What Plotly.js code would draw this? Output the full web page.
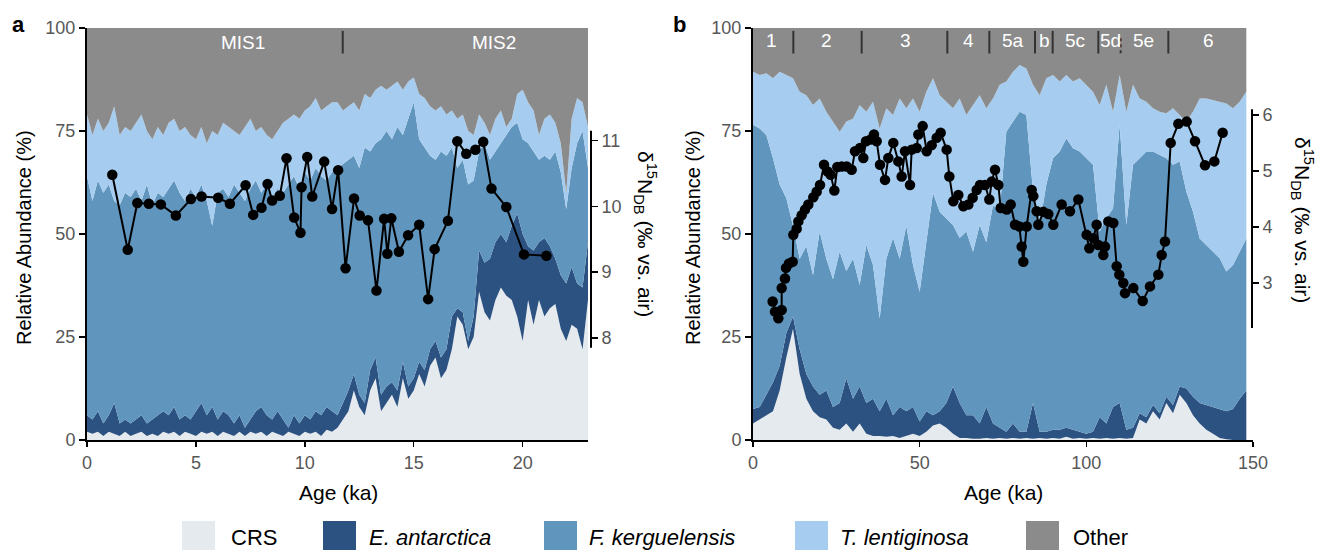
<!DOCTYPE html>
<html><head><meta charset="utf-8">
<script src="https://cdn.plot.ly/plotly-3.0.1.min.js"></script>
<style>html,body{margin:0;padding:0;background:#fff}#chart{width:1320px;height:550px}</style>
</head><body><div id="chart"></div>
<script>
// ---------- Panel a: 0-23 ka ----------
const ageA = [0,0.25,0.5,0.75,1,1.25,1.5,1.75,2,2.25,2.5,2.75,3,3.25,3.5,3.75,4,4.25,4.5,4.75,5,5.25,5.5,5.75,6,6.25,6.5,6.75,7,7.25,7.5,7.75,8,8.25,8.5,8.75,9,9.25,9.5,9.75,10,10.25,10.5,10.75,11,11.25,11.5,11.75,12,12.25,12.5,12.75,13,13.25,13.5,13.75,14,14.25,14.5,14.75,15,15.25,15.5,15.75,16,16.25,16.5,16.75,17,17.25,17.5,17.75,18,18.25,18.5,18.75,19,19.25,19.5,19.75,20,20.25,20.5,20.75,21,21.25,21.5,21.75,22,22.25,22.5,22.75,23];
const crsA = [2,1.5,2,1,2,1.5,1,2,1,1.5,2,1,1.5,1,2,1.5,2,1,2,1.5,1,2,1.5,2,1,2,1.5,1,2,1,2,1.5,2,1,2,1.5,1,2,1.5,1,2,1.5,2,1,2.5,2,3,5,7,12,8,6,12,15,7,9,11,8,15,10,12,16,13,18,20,15,17,22,30,28,22,25,36,31,29,34,37,35,34,30,24,34,28,34,30,32,33,27,24,28,27,22,34];
const eantA = [4,3.5,5,3,4,7.5,3,3,3,3.5,4,3,3.5,5,5,4.5,6,4,4,3.5,6,7,4.5,6,4,5,4.5,3,4,2,3,5.5,6,5,3,5.5,4,1,4.5,3,4,3.5,5,5,5.5,5,3,4,5,4,3,3,5,5,4,4,3,4,4,3,3,3,4,4,4,5,5,8,2,3,2,5,10,12,15,14,13,13,18,25,26,13,18,14,19,15,11,13,14,14,11,15,14];
const fkerA = [58,53,56,56,56,49,53,55,55,56,52,58,52,54,52,55,55,55,52,56,52,53,52,44,55,54,53,58,54,55,56,56,52,56,54,54,55,59,58,57,59,58,59,58,55,58,60,58,56,53,55,62,53,52,62,62,59,64,55,65,67,54,54,47,44,50,47,41,34,37,38,33,24,29,24,22,22,26,24,22,23,25,24,20,20,21,26,25,18,24,34,38,18];
const tlenA = [15,16,15,15,15,23,17,16,16,16,21,13,16,16,15,16,15,15,18,13,14,14,14,23,14,16,17,13,14,18,17,12,16,12,14,14,17,16,15,17,15,18,17,16,18,17,16,13,13,13,14,13,13,13,13,10,13,11,11,9,6,11,12,12,12,11,10,9,12,11,13,11,9,5,6,8,8,2,2,7,12,10,10,6,9,11,7,7,4,12,11,7,10];
const otherA = [21,26,22,25,23,19,26,24,25,23,21,25,27,24,26,23,22,25,24,26,27,24,28,25,26,23,24,25,26,24,22,25,24,26,27,25,23,22,21,22,20,19,17,20,19,18,18,20,19,18,20,16,17,15,14,15,14,13,15,13,12,16,17,19,20,19,21,20,22,21,25,26,21,23,26,22,20,24,22,16,15,18,20,26,22,21,23,28,40,22,17,18,24];
const d15nAgeA = [1.16,1.87,2.31,2.84,3.39,4.08,4.77,5.26,6.02,6.56,7.28,7.63,8.01,8.29,8.50,8.85,9.16,9.51,9.80,9.85,10.11,10.34,10.89,11.25,11.53,11.87,12.26,12.52,12.90,13.29,13.64,13.79,13.97,14.32,14.74,15.25,15.66,15.96,16.57,17.00,17.41,17.83,18.19,18.57,19.25,20.06,21.09];
const d15nA = [10.48,9.34,10.05,10.04,10.03,9.86,10.11,10.15,10.13,10.04,10.32,9.87,9.98,10.34,10.09,10.16,10.73,9.83,9.60,10.29,10.75,10.15,10.68,9.96,10.55,9.06,10.12,9.86,9.79,8.72,9.81,9.28,9.82,9.31,9.56,9.72,8.59,9.35,9.78,10.99,10.80,10.86,10.98,10.27,9.99,9.27,9.25];

// ---------- Panel b: 0-150 ka ----------
const ageB = [0,2,4,6,8,10,12,14,16,18,20,22,24,26,28,30,32,34,36,38,40,42,44,46,48,50,52,54,56,58,60,62,64,66,68,70,72,74,76,78,80,82,84,86,88,90,92,94,96,98,100,102,104,106,108,110,112,114,116,118,120,122,124,126,128,130,132,134,136,138,140,142,144,146,148];
const crsB = [4,5,6,7,12,20,27,16,10,7,5.5,5,3,2.5,4,2,4,1.5,1,1,0.8,1,0.5,1,1.5,1,2,3.5,4,3,1.5,0.5,0.5,0.3,0.3,0.5,0.3,0.5,0.3,0.5,0.3,0.5,0.3,0.5,0.3,0.5,0.3,0.8,0.3,0.5,0.3,0.5,0.3,0.5,0.3,0.5,0.3,0.5,5,4,7,5,9,6.5,11,9,6,4,2.5,1.5,0.5,0.2,0,0,0];
const eantB = [3.5,3,5,7,6,6,3,6,6,6,5.5,7,5,6.5,11,8,9,7.5,9,6,9.2,5,7.5,6,6.5,3.5,5,2.5,3,6,11.5,8.5,5.5,5.7,3.7,7.5,3.7,2.5,1.7,3.5,1.7,1.5,8.7,1.5,1.7,2,2.2,2.2,2.2,1.5,1.2,1.5,5.2,3.5,7.7,8.5,2.2,2.5,1.5,1.5,1.5,1.5,1.5,2,2,3.5,4.5,5,6,6.5,7,6.8,7.5,10,12];
const fkerB = [69,67.6,63,54.4,44,32.7,22,22,31,27,39.6,32,31,36.7,26,34,24.6,38.3,32.5,22.5,34,43,36,45,34.5,31.5,41,54,48.4,44.8,39.2,40,44.6,39.7,48.2,40,53,52.4,72.8,73.3,77.7,76.9,51.3,50.2,60,65.9,67.5,70.2,68.3,68,66.9,64.8,45.1,49.8,48.2,67.5,49.7,63.8,61.9,64.5,61.5,62.7,57.9,58.3,54.6,47.8,44.9,39.9,38.8,37.7,36.6,33.9,35,35.7,36.9];
const tlenB = [12.9,13,15,19.4,27.4,29.9,35.8,40.5,36.7,41.3,32.3,35.7,38.3,29.1,36.3,34,43.7,32.4,39.6,46.1,36.5,29.9,38.9,28.5,40.4,43.7,36.5,27.8,28.3,28.3,28.3,33.9,28.3,35.6,31.5,32.5,25.9,30.8,12.2,12.1,11.3,11.3,25.9,31.5,25.8,20.2,17,15.4,16.2,17.8,17.8,17.7,30.7,32.4,23.5,12.1,27.5,19.4,14.5,12.1,10.5,10.5,10.9,13.7,11.3,17,24.3,34,35.6,36.8,38,40.8,38,36.4,35.6];
const otherB = [10.6,11.4,11,12.2,10.6,11.4,12.2,15.5,16.3,18.7,17.1,20.3,22.7,25.2,22.7,22,18.7,20.3,17.9,24.4,19.5,21.1,17.1,19.5,17.1,20.3,15.5,12.2,16.3,17.9,19.5,17.1,21.1,18.7,16.3,19.5,17.1,13.8,13,10.6,9,9.8,13.8,16.3,12.2,11.4,13,11.4,13,12.2,13.8,15.5,18.7,13.8,20.3,11.4,20.3,13.8,17.1,17.9,19.5,20.3,20.7,19.5,21.1,22.7,20.3,17.1,17.1,17.5,17.9,18.3,19.5,17.9,15.5];
const d15nAgeB = [5.9,6.6,7.6,8.6,8.6,9.6,9.9,10.8,11.9,12.1,13.1,13.6,14.6,15.6,16.6,18.1,19.1,20.1,21.3,22.4,23.3,24.4,25.3,26.6,28.1,29.6,30.6,32.1,33.1,33.9,35.3,36.3,37.1,38.1,39.6,40.6,42.1,43.6,44.6,45.6,47.1,47.6,49.1,49.6,50.9,52.1,53.6,55.1,56.3,58.1,58.9,60.1,61.6,63.1,64.6,65.9,67.1,68.1,69.6,70.9,71.6,72.6,73.6,74.3,76.1,77.3,78.6,79.9,80.6,81.1,82.1,83.6,84.1,85.1,85.6,87.1,88.6,90.1,92.6,95.1,97.6,100.1,100.9,102.1,103.1,103.6,105.1,105.6,106.6,108.1,109.1,109.9,111.1,111.6,114.1,116.9,119.1,121.6,122.6,123.6,125.3,127.6,130.1,132.6,135.6,138.4,140.9];
const d15nB = [2.67,2.49,2.37,2.52,2.91,3.08,3.27,3.35,3.38,3.86,3.97,4.10,4.21,4.31,4.40,4.53,4.63,4.75,5.11,4.99,4.93,4.65,5.07,5.08,5.08,5.02,5.35,5.41,5.23,5.53,5.56,5.65,5.53,5.11,4.84,5.23,5.50,5.17,4.90,5.35,4.75,5.38,5.41,5.65,5.80,5.35,5.46,5.59,5.68,5.38,4.90,4.46,4.57,4.37,4.40,4.52,4.66,4.75,4.75,4.49,4.81,5.02,4.75,4.34,4.31,4.40,4.04,4.01,3.65,3.38,4.01,4.66,4.55,4.28,4.04,4.27,4.23,4.04,4.40,4.28,4.49,3.86,3.62,3.80,4.04,3.68,3.50,3.65,4.10,4.07,3.30,3.15,3.00,2.82,2.91,2.68,2.94,3.15,3.50,3.74,5.50,5.84,5.88,5.53,5.10,5.17,5.68];

// ---------- labels ----------
const speciesNames = ['CRS','<i>E. antarctica</i>','<i>F. kerguelensis</i>','<i>T. lentiginosa</i>','Other'];
const misLabelsA = ['MIS1','MIS2'];
const misLabelAgeA = [7.16,18.7];
const misBoundA = [11.74];
const misLabelsB = ['1','2','3','4','5a','b','5c','5d','5e','6'];
const misLabelAgeB = [5.6,22.1,45.6,64.6,78.1,87.4,96.6,107.1,117.1,136.6];
const misBoundB = [12.1,32.6,58.3,70.9,84.6,89.9,103.6,124.6];
const misBoundDotB = [110.3];

// ---------- styling ----------
const colors = ['#e5eaee','#2c5282','#6095bd','#a6cdef','#8b8b8b'];
const FONT = 'Liberation Sans, Arial, Helvetica, sans-serif';
const px = v => v/1320, py = v => 1 - v/550;

const traces = [];
const seriesA = [crsA,eantA,fkerA,tlenA,otherA];
const seriesB = [crsB,eantB,fkerB,tlenB,otherB];
seriesA.forEach((s,i)=>traces.push({x:ageA,y:s,type:'scatter',mode:'lines',stackgroup:'a',
  line:{width:0},fillcolor:colors[i],xaxis:'x',yaxis:'y',showlegend:false,hoverinfo:'skip'}));
seriesB.forEach((s,i)=>traces.push({x:ageB,y:s,type:'scatter',mode:'lines',stackgroup:'b',
  line:{width:0},fillcolor:colors[i],xaxis:'x2',yaxis:'y3',showlegend:false,hoverinfo:'skip'}));
traces.push({x:d15nAgeA,y:d15nA,type:'scatter',mode:'lines+markers',xaxis:'x',yaxis:'y2',
  line:{color:'#000',width:2},marker:{color:'#000',size:10.5},showlegend:false});
traces.push({x:d15nAgeB,y:d15nB,type:'scatter',mode:'lines+markers',xaxis:'x2',yaxis:'y4',
  line:{color:'#000',width:2},marker:{color:'#000',size:10.5},showlegend:false});

const tickFont = {family:FONT,size:18,color:'#575757'};
const baseX = {showgrid:false,zeroline:false,showline:true,linecolor:'#000',linewidth:2,
  ticks:'outside',ticklen:5,tickwidth:1.5,tickcolor:'#000',tickfont:tickFont,fixedrange:true};
const baseY = Object.assign({},baseX,{range:[0,100],tickvals:[0,25,50,75,100],domain:[py(440),py(28)],ticklen:6});

const layout = {
  width:1320,height:550,margin:{l:0,r:0,t:0,b:0},paper_bgcolor:'#fff',plot_bgcolor:'rgba(0,0,0,0)',
  font:{family:FONT},showlegend:false,
  xaxis:Object.assign({},baseX,{domain:[px(87),px(588)],range:[0,23],tickvals:[0,5,10,15,20],anchor:'y'}),
  yaxis:Object.assign({},baseY,{anchor:'x'}),
  yaxis2:{overlaying:'y',side:'right',anchor:'free',position:px(591),range:[6.45,12.71],
    tickvals:[8,9,10,11],showgrid:false,zeroline:false,showline:false,ticks:'outside',ticklen:6,
    tickwidth:1.5,tickcolor:'#000',tickfont:tickFont,fixedrange:true},
  xaxis2:Object.assign({},baseX,{domain:[px(753),px(1253)],range:[0,150],tickvals:[0,50,100,150],anchor:'y3'}),
  yaxis3:Object.assign({},baseY,{anchor:'x2'}),
  yaxis4:{overlaying:'y3',side:'right',anchor:'free',position:px(1252),range:[0.2,7.55],
    tickvals:[3,4,5,6],showgrid:false,zeroline:false,showline:false,ticks:'outside',ticklen:6,
    tickwidth:1.5,tickcolor:'#000',tickfont:tickFont,fixedrange:true},
  shapes:[],annotations:[]
};

// right axis lines (partial extent)
layout.shapes.push({type:'line',xref:'paper',yref:'y2',x0:px(591),x1:px(591),y0:7.85,y1:11.15,line:{color:'#000',width:2}});
layout.shapes.push({type:'line',xref:'paper',yref:'y4',x0:px(1252),x1:px(1252),y0:2.2,y1:6.1,line:{color:'#000',width:2}});

// MIS boundaries and labels
misBoundA.forEach(b=>layout.shapes.push({type:'line',xref:'x',yref:'y',x0:b,x1:b,y0:99.3,y1:93.8,line:{color:'#333',width:2}}));
misBoundB.forEach(b=>layout.shapes.push({type:'line',xref:'x2',yref:'y3',x0:b,x1:b,y0:99.3,y1:93.8,line:{color:'#333',width:2}}));
misBoundDotB.forEach(b=>layout.shapes.push({type:'line',xref:'x2',yref:'y3',x0:b,x1:b,y0:97.5,y1:93.8,line:{color:'#333',width:2,dash:'dot'}}));
misLabelsA.forEach((t,i)=>layout.annotations.push({xref:'x',yref:'y',x:misLabelAgeA[i],y:96.4,text:t,showarrow:false,
  font:{family:FONT,size:19,color:'#fff'},xanchor:'center',yanchor:'middle'}));
misLabelsB.forEach((t,i)=>layout.annotations.push({xref:'x2',yref:'y3',x:misLabelAgeB[i],y:97.0,text:t,showarrow:false,
  font:{family:FONT,size:19,color:'#fff'},xanchor:'center',yanchor:'middle'}));

// panel letters
layout.annotations.push({xref:'paper',yref:'paper',x:px(18),y:py(25),text:'<b>a</b>',showarrow:false,font:{family:FONT,size:22,color:'#000'},xanchor:'center',yanchor:'middle'});
layout.annotations.push({xref:'paper',yref:'paper',x:px(679),y:py(25),text:'<b>b</b>',showarrow:false,font:{family:FONT,size:22,color:'#000'},xanchor:'center',yanchor:'middle'});

// axis titles
[[24,238],[693,238]].forEach(p=>layout.annotations.push({xref:'paper',yref:'paper',x:px(p[0]),y:py(p[1]),
  text:'Relative Abundance (%)',textangle:-90,showarrow:false,font:{family:FONT,size:20,color:'#000'},xanchor:'center',yanchor:'middle'}));
[[338,492],[1003,492]].forEach(p=>layout.annotations.push({xref:'paper',yref:'paper',x:px(p[0]),y:py(p[1]),
  text:'Age (ka)',showarrow:false,font:{family:FONT,size:21,color:'#000'},xanchor:'center',yanchor:'middle'}));
[[646,234],[1303,220]].forEach(p=>layout.annotations.push({xref:'paper',yref:'paper',x:px(p[0]),y:py(p[1]),
  text:'δ<sup>15</sup>N<sub>DB</sub> (‰ vs. air)',textangle:90,showarrow:false,font:{family:FONT,size:21,color:'#000'},xanchor:'center',yanchor:'middle'}));

// legend (manual)
const legBox = [182,323,544,795,1026];
const legText = [229,367,587,838,1071];
speciesNames.forEach((n,i)=>{
  layout.shapes.push({type:'rect',xref:'paper',yref:'paper',x0:px(legBox[i]),x1:px(legBox[i]+33),y0:py(550),y1:py(521),
    fillcolor:colors[i],line:{width:0}});
  layout.annotations.push({xref:'paper',yref:'paper',x:px(legText[i]),y:py(537),text:n,showarrow:false,
    font:{family:FONT,size:22,color:'#000'},xanchor:'left',yanchor:'middle'});
});

Plotly.newPlot('chart',traces,layout,{staticPlot:true,displayModeBar:false});
</script></body></html>
